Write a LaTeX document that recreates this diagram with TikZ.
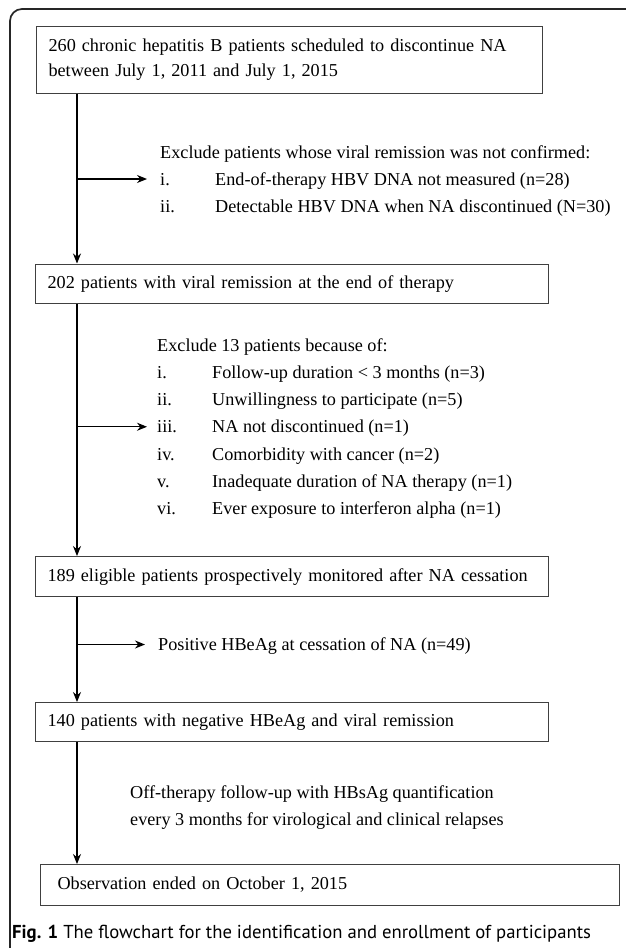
\documentclass[tikz,border=0pt]{standalone}
\usepackage{fontspec}
\setmainfont{Liberation Serif}
\newfontfamily\capfont{PT Sans}
\usetikzlibrary{arrows.meta}

\begin{document}
\begin{tikzpicture}[x=1pt,y=-1pt,>={Stealth[length=10pt,width=8pt]},font=\fontsize{18.2}{25}\selectfont]

		\tikzstyle{box}=[rectangle,draw=black!75,line width=1.1pt,anchor=north west,inner xsep=12pt,inner ysep=0pt,align=left]
		\tikzstyle{line}=[inner sep=0pt,anchor=base west,text height=12pt,text depth=0pt]
		\tikzstyle{flow}=[draw=black,line width=1.2pt]

		\useasboundingbox (0,0) rectangle (625,948);
		\draw [line width=1.7pt,black!85,rounded corners=12pt] (10,970) -- (10,9) -- (650,9);

		\coordinate (spine) at (77,0);

		\node [box,text width=482pt,minimum height=66.5pt] (start) at (36,26) {260 chronic hepatitis B patients scheduled to discontinue NA\\between July 1, 2011 and July 1, 2015};
		\node [box,text width=489pt,minimum height=39.5pt] (remis) at (35,263.5) {202 patients with viral remission at the end of therapy};
		\node [box,text width=489pt,minimum height=40pt] (elig) at (35,556) {189 eligible patients prospectively monitored after NA cessation};
		\node [box,text width=489pt,minimum height=39pt] (neg) at (35,702) {140 patients with negative HBeAg and viral remission};
		\node [box,inner xsep=17pt,text width=545pt,minimum height=41pt] (obs) at (40,864) {Observation ended on October 1, 2015};

		% first exclusion
		\node [line] (ex1) at (160,158) {Exclude patients whose viral remission was not confirmed:};
		\node [line] (ex1a) at (160,185) {\makebox[55pt][l]{i.}End-of-therapy HBV DNA not measured (n=28)};
		\node [line] (ex1b) at (160,212) {\makebox[55pt][l]{ii.}Detectable HBV DNA when NA discontinued (N=30)};

		% second exclusion
		\node [line] (ex2) at (157,351) {Exclude 13 patients because of:};
		\node [line] (ex2a) at (157,378.25) {\makebox[55pt][l]{i.}Follow-up duration < 3 months (n=3)};
		\node [line] (ex2b) at (157,405.5) {\makebox[55pt][l]{ii.}Unwillingness to participate (n=5)};
		\node [line] (ex2c) at (157,432.75) {\makebox[55pt][l]{iii.}NA not discontinued (n=1)};
		\node [line] (ex2d) at (157,460) {\makebox[55pt][l]{iv.}Comorbidity with cancer (n=2)};
		\node [line] (ex2e) at (157,487.25) {\makebox[55pt][l]{v.}Inadequate duration of NA therapy (n=1)};
		\node [line] (ex2f) at (157,514.5) {\makebox[55pt][l]{vi.}Ever exposure to interferon alpha (n=1)};

		\node [line] (pos) at (158,650.5) {Positive HBeAg at cessation of NA (n=49)};

		\node [line] (off1) at (130,798.6) {Off-therapy follow-up with HBsAg quantification};
		\node [line] (off2) at (130,825.8) {every 3 months for virological and clinical relapses};

		\draw [flow,->] (start.south -| spine) -- (remis.north -| spine);
		\draw [flow,->] (remis.south -| spine) -- (elig.north -| spine);
		\draw [flow,->] (elig.south -| spine) -- (neg.north -| spine);
		\draw [flow,->] (neg.south -| spine) -- (obs.north -| spine);

		\draw [flow,->] (spine |- ex1a.west) -- ([xshift=-13pt]ex1a.west);
		\draw [flow,->] (spine |- ex2c.west) -- ([xshift=-10pt]ex2c.west);
		\draw [flow,->] (spine |- pos.west) -- ([xshift=-13pt]pos.west);

		\node [anchor=base west,inner sep=0pt,font=\capfont\fontsize{18.7}{20}\selectfont] (cap) at (12,938) {\textbf{Fig. 1} The flowchart for the identification and enrollment of participants};
\end{tikzpicture}
\end{document}
